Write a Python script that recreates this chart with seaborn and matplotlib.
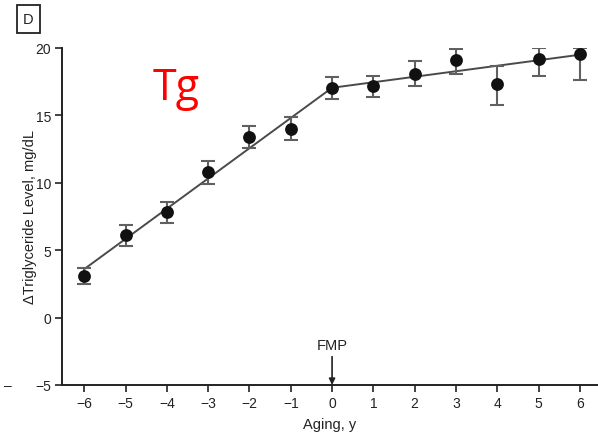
import matplotlib
matplotlib.use("Agg")
import matplotlib.pyplot as plt
import seaborn as sns
import pandas as pd
import numpy as np

sns.set_theme(style="ticks")
plt.rcParams['font.family'] = ['Liberation Sans Narrow', 'Liberation Sans', 'DejaVu Sans']

# Data
aging = [-6, -5, -4, -3, -2, -1, 0, 1, 2, 3, 4, 5, 6]
tg_mean = [3.1, 6.1, 7.8, 10.8, 13.4, 14.0, 17.05, 17.2, 18.1, 19.1, 17.3, 19.2, 19.55]
tg_low = [2.5, 5.3, 7.0, 9.9, 12.55, 13.15, 16.2, 16.4, 17.15, 18.05, 15.8, 17.95, 17.6]
tg_high = [3.7, 6.9, 8.55, 11.6, 14.2, 14.85, 17.85, 17.9, 19.05, 19.95, 18.7, 20.0, 20.0]
fit_x = [-6, 0, 6]
fit_y = [3.6, 17.05, 19.5]
x_ticks = [-6, -5, -4, -3, -2, -1, 0, 1, 2, 3, 4, 5, 6]
y_ticks = [-5, 0, 5, 10, 15, 20]

df = pd.DataFrame({"aging": aging, "tg": tg_mean, "lo": tg_low, "hi": tg_high})
fit_df = pd.DataFrame({"x": fit_x, "y": fit_y})

fig = plt.figure(figsize=(5.98, 4.39), dpi=100)
ax = fig.add_axes([62/598, 53/439, 1 - 62/598, (386 - 49)/439])

sns.lineplot(data=fit_df, x="x", y="y", ax=ax, color="#4a4a4a", linewidth=1.4, zorder=2)

yerr = np.array([df["tg"] - df["lo"], df["hi"] - df["tg"]])
ax.errorbar(df["aging"], df["tg"], yerr=yerr, fmt="none", ecolor="#606060",
            elinewidth=1.5, capsize=5, capthick=1.5, zorder=3)
sns.scatterplot(data=df, x="aging", y="tg", ax=ax, color="#111111", s=85,
                edgecolor="#111111", linewidth=0, zorder=4)

ax.set_xlim(-6.54, 6.44)
ax.set_ylim(-5, 20)
ax.set_xticks(x_ticks)
ax.set_xticklabels([str(v).replace("-", "\u2212") for v in x_ticks])
ax.set_yticks(y_ticks)
ax.set_yticklabels([str(v).replace("-", "\u2212") for v in y_ticks])
ax.tick_params(axis="both", direction="out", length=5, width=1.2, color="#222222",
               labelsize=10, labelcolor="#222222", pad=3)
for side in ["top", "right"]:
    ax.spines[side].set_visible(False)
for side in ["left", "bottom"]:
    ax.spines[side].set_linewidth(1.4)
    ax.spines[side].set_color("#222222")

ax.set_xlabel("Aging, y", fontsize=10.5, color="#222222")
ax.xaxis.set_label_coords(0.5, -(425 - 386) / 337, transform=ax.transAxes)
ax.set_ylabel("\u0394Triglyceride Level, mg/dL", fontsize=10.5, color="#222222")
ax.yaxis.set_label_coords((30 - 62) / 536, 0.5)
ax.xaxis.label.set_va("center")
ax.yaxis.label.set_va("center")

# FMP annotation
ax.annotate("FMP", xy=(0, -5), xytext=(0, -2.55), ha="center", va="bottom",
            fontsize=10.5, color="#222222",
            arrowprops=dict(arrowstyle="-|>", color="#222222", lw=1.2,
                            mutation_scale=9, shrinkA=1, shrinkB=0))

# Red Tg label
fig.text(176/598, 1 - 89/439, "Tg", color="#ff0000", fontsize=31,
         family=["Open Sans", "DejaVu Sans"], ha="center", va="center")

# Panel letter in a box
fig.text(28.5/598, 1 - 20/439, "D", fontsize=10.5, color="#222222", ha="center", va="center",
         bbox=dict(boxstyle="square,pad=0.45", fc="white", ec="#222222", lw=1.3))

# stray dash at the left edge
fig.text(8/598, 1 - 386/439, "\u2013", fontsize=10, color="#222222", ha="center", va="center")

fig.savefig("out.png", dpi=100)
